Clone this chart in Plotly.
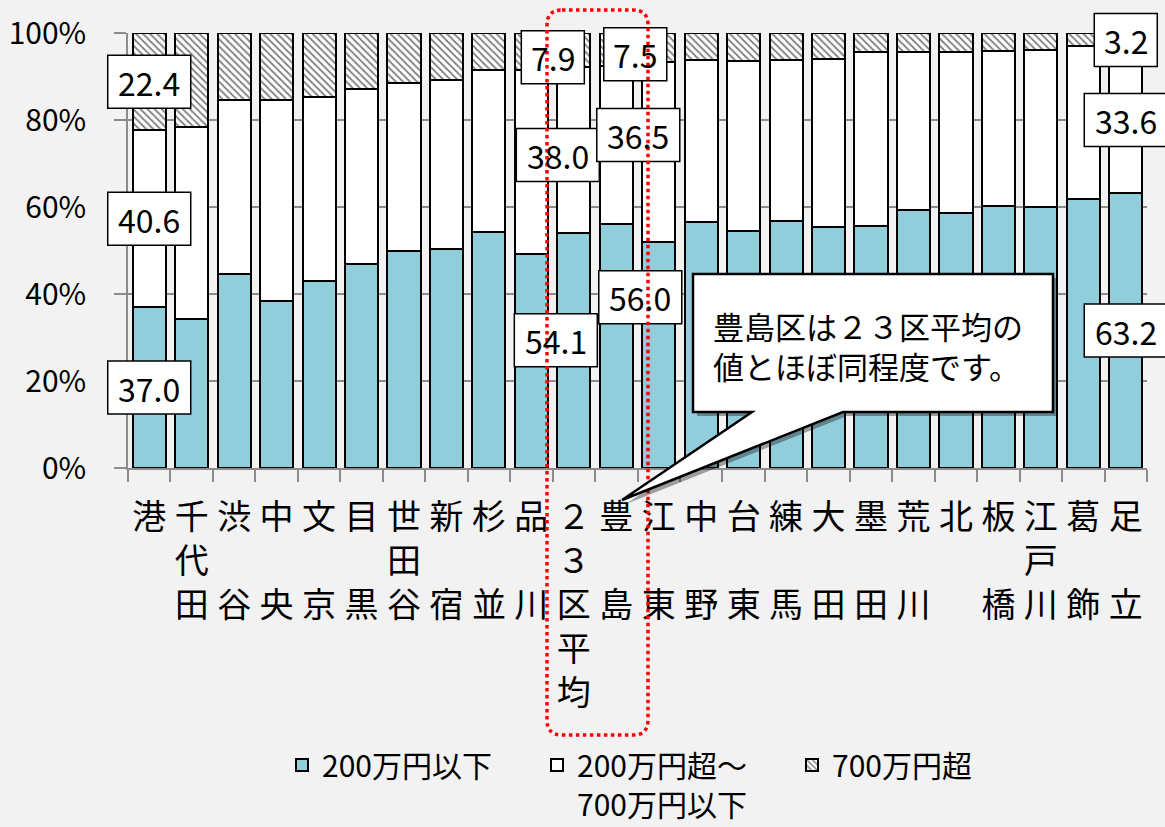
import plotly.graph_objects as go

# ---------------- data ----------------
categories = ["港", "千代田", "渋谷", "中央", "文京", "目黒", "世田谷", "新宿", "杉並", "品川",
              "２３区平均", "豊島", "江東", "中野", "台東", "練馬", "大田", "墨田", "荒川", "北",
              "板橋", "江戸川", "葛飾", "足立"]
tick_labels = ["港", "千<br>代<br>田", "渋<br>　<br>谷", "中<br>　<br>央", "文<br>　<br>京",
               "目<br>　<br>黒", "世<br>田<br>谷", "新<br>　<br>宿", "杉<br>　<br>並", "品<br>　<br>川",
               "２<br>３<br>区<br>平<br>均", "豊<br>　<br>島", "江<br>　<br>東", "中<br>　<br>野",
               "台<br>　<br>東", "練<br>　<br>馬", "大<br>　<br>田", "墨<br>　<br>田", "荒<br>　<br>川",
               "北", "板<br>　<br>橋", "江<br>戸<br>川", "葛<br>　<br>飾", "足<br>　<br>立"]
low = [37.0, 34.3, 44.7, 38.4, 43.1, 46.8, 50.0, 50.4, 54.3, 49.3, 54.1, 56.0,
       52.0, 56.6, 54.5, 56.7, 55.3, 55.6, 59.2, 58.6, 60.2, 59.9, 61.9, 63.2]
middle = [40.6, 44.1, 39.8, 46.3, 42.2, 40.4, 38.4, 38.9, 37.1, 42.2, 38.0, 36.5,
          41.3, 37.1, 39.1, 37.2, 38.8, 40.0, 36.4, 37.0, 35.7, 36.1, 35.0, 33.6]
high = [22.4, 21.6, 15.5, 15.3, 14.7, 12.8, 11.6, 10.7, 8.6, 8.5, 7.9, 7.5,
        6.7, 6.3, 6.4, 6.1, 5.9, 4.4, 4.4, 4.4, 4.1, 4.0, 3.1, 3.2]
series_names = ["200万円以下", "200万円超～<br>700万円以下", "700万円超"]
y_ticks = [0, 20, 40, 60, 80, 100]
y_tick_labels = ["0%", "20%", "40%", "60%", "80%", "100%"]
labelled = ["港", "２３区平均", "豊島", "足立"]
callout_text = "豊島区は２３区平均の<br>値とほぼ同程度です。"

# ---------------- styles ----------------
FONT = "Noto Sans CJK JP"
BLUE = "#92CDDC"
BG = "#F2F2F2"
GRID = "#8C8C8C"
Y_MAX = 100
# pixel offsets (dx, dy) of the value boxes, per (category, series index)
label_shift = {
    ("２３区平均", 0): (-18, 10), ("２３区平均", 1): (-16, -5), ("２３区平均", 2): (-21, -7),
    ("豊島", 0): (24, 49), ("豊島", 1): (22, 10), ("豊島", 2): (19, -5),
}

# plot area in pixels (for the decorative shapes)
L, R, T, B = 128, 1147, 33, 468
def PX(x):
    return (x - L) / (R - L)
def PY(y):
    return (B - y) / (B - T)

fig = go.Figure()
series = [low, middle, high]
styles = [
    dict(color=BLUE, line=dict(color="black", width=2)),
    dict(color="white", line=dict(color="black", width=2)),
    dict(color="white", line=dict(color="black", width=2),
         pattern=dict(shape="\\", fgcolor="black", bgcolor="white", size=5, solidity=0.35)),
]
for vals, name, st in zip(series, series_names, styles):
    fig.add_trace(go.Bar(x=categories, y=vals, name=name, marker=st))

shapes = []
annotations = []
n = len(categories)
# value boxes (paper-anchored so they are not clipped at the plot edge)
for cat in labelled:
    i = categories.index(cat)
    base = 0.0
    for s, vals in enumerate(series):
        v = vals[i]
        ymid = base + v / 2
        base += v
        txt = f"{v:.1f}"
        dx, dy = label_shift.get((cat, s), (0, 0))
        w = 83 if len(txt) >= 4 else 63
        h = 53
        shapes.append(dict(type="rect", xref="paper", yref="paper", xsizemode="pixel", ysizemode="pixel",
                           xanchor=(i + 0.5) / n, yanchor=ymid / Y_MAX, x0=dx - w / 2, x1=dx + w / 2,
                           y0=dy - h / 2, y1=dy + h / 2, fillcolor="white",
                           line=dict(color="black", width=1.5), layer="above"))
        annotations.append(dict(x=cat, y=ymid, xref="x", yref="y", text=txt, showarrow=False,
                                xshift=dx, yshift=dy, font=dict(size=32, color="black", family=FONT)))

# red dotted rounded rectangle around 23区平均
x0, x1, y0, y1, r = PX(547), PX(648), PY(10), PY(735), 15
rx, ry = r / (R - L), r / (B - T)
shapes.append(dict(
    type="path", xref="paper", yref="paper", layer="above",
    path=(f"M{x0+rx},{y0} L{x1-rx},{y0} Q{x1},{y0} {x1},{y0-ry} L{x1},{y1+ry} "
          f"Q{x1},{y1} {x1-rx},{y1} L{x0+rx},{y1} Q{x0},{y1} {x0},{y1+ry} "
          f"L{x0},{y0-ry} Q{x0},{y0} {x0+rx},{y0} Z"),
    line=dict(color="#FF0000", width=3.5, dash="dot")))

# callout bubble
def bubble(off):
    bl, bt, br_, bb = 693 + off, 274 + off, 1053 + off, 412 + off
    tl, tr, tx, ty = 752 + off, 843 + off, 622 + off, 500 + off
    pts = [(bl, bt), (br_, bt), (br_, bb), (tr, bb), (tx, ty), (tl, bb), (bl, bb)]
    return "M" + " L".join(f"{PX(a)},{PY(b)}" for a, b in pts) + " Z"

shapes.append(dict(type="path", xref="paper", yref="paper", layer="above", path=bubble(4),
                   fillcolor="rgba(0,0,0,0.35)", line=dict(width=0)))
shapes.append(dict(type="path", xref="paper", yref="paper", layer="above", path=bubble(0),
                   fillcolor="white", line=dict(color="black", width=2.5)))
annotations.append(dict(x=PX(711), y=PY(345), xref="paper", yref="paper", xanchor="left",
                        yanchor="middle", align="left", text=callout_text, showarrow=False,
                        font=dict(size=31, color="black", family=FONT)))

fig.update_layout(
    width=1165, height=827, autosize=False,
    paper_bgcolor=BG, plot_bgcolor=BG,
    margin=dict(l=L, r=1165 - R, t=T, b=827 - B, pad=0, autoexpand=False),
    barmode="stack", bargap=0.22,
    font=dict(family=FONT, color="black"),
    shapes=shapes, annotations=annotations,
    legend=dict(orientation="h", x=PX(282), xanchor="left", y=PY(739), yanchor="top",
                traceorder="normal", valign="top", bgcolor="rgba(0,0,0,0)",
                font=dict(size=30, family=FONT, color="black"), itemwidth=30,
                entrywidth=210, entrywidthmode="pixels"),
    showlegend=True,
)
fig.update_xaxes(range=[-0.5, n - 0.5], autorange=False,
                 tickvals=categories, ticktext=tick_labels, tickangle=0,
                 tickfont=dict(size=34, family=FONT, color="black"),
                 ticks="outside", ticklen=12, tickcolor=GRID, tickwidth=1.5, tickson="boundaries",
                 showline=True, linecolor=GRID, linewidth=1.5, showgrid=False,
                 ticklabelstandoff=18)
fig.update_yaxes(range=[0, Y_MAX], autorange=False, tickvals=y_ticks, ticktext=y_tick_labels,
                 tickfont=dict(size=30, family=FONT, color="black"),
                 ticks="outside", ticklen=12, tickcolor=GRID, tickwidth=1.5,
                 showline=True, linecolor=GRID, linewidth=1.5,
                 showgrid=True, gridcolor=GRID, gridwidth=1.5, zeroline=False,
                 ticklabelstandoff=22)

fig.write_html("out.html")
